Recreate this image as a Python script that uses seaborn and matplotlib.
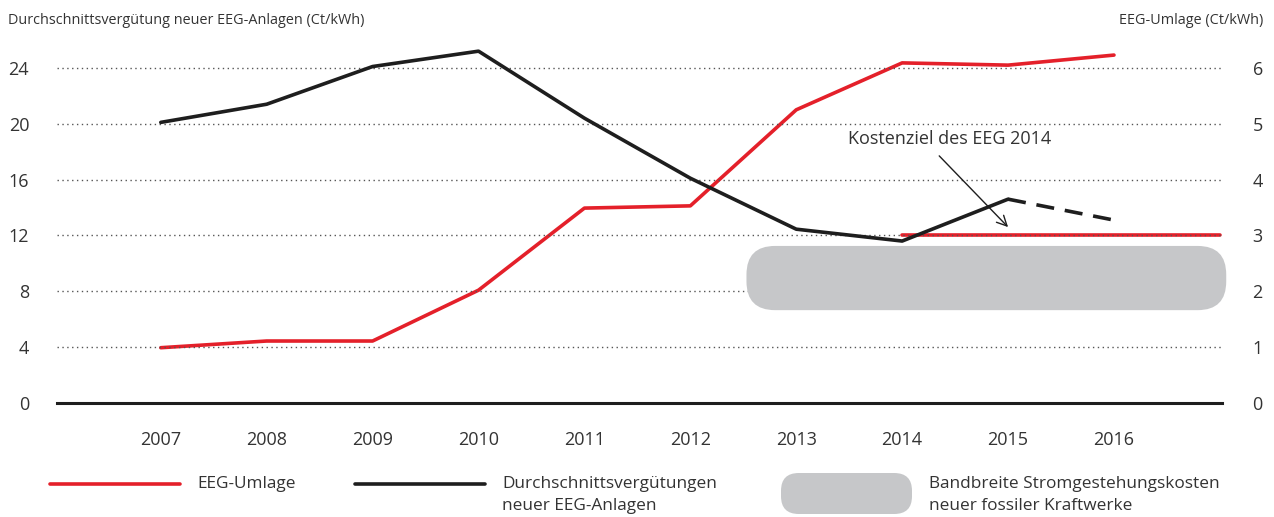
import numpy as np
import pandas as pd
import seaborn as sns
import matplotlib.pyplot as plt
from matplotlib.patches import FancyBboxPatch
from matplotlib.lines import Line2D

# Werte
jahre = [2007, 2008, 2009, 2010, 2011, 2012, 2013, 2014, 2015, 2016]
umlage = [0.99, 1.11, 1.11, 2.02, 3.49, 3.53, 5.25, 6.09, 6.05, 6.23]          # Ct/kWh, rechte Achse
verg_jahre = [2007, 2008, 2009, 2010, 2011, 2012, 2013, 2014, 2015]
verguetung = [20.1, 21.4, 24.1, 25.2, 20.4, 16.1, 12.45, 11.6, 14.6]            # Ct/kWh, linke Achse
prognose_jahre = [2015, 2016]
prognose = [14.6, 13.1]
kostenziel_jahre = [2014, 2017]
kostenziel = [3.0, 3.0]
band_von, band_bis = 6.65, 11.25       # Bandbreite fossile Kraftwerke (linke Achse)
band_start, band_ende = 2012.53, 2017.06

links_ticks = [0, 4, 8, 12, 16, 20, 24]
rechts_ticks = [0, 1, 2, 3, 4, 5, 6]

rot = "#e4202a"
schwarz = "#1e1e1e"
grau = "#c6c7c9"
textfarbe = "#333333"

sns.set_style("white")
plt.rcParams["font.family"] = ["Open Sans", "DejaVu Sans"]

fig = plt.figure(figsize=(12.74, 5.17), dpi=100)
ax = fig.add_axes([57 / 1274, 1 - 403 / 517, (1222 - 57) / 1274, (403 - 40) / 517])
ax2 = ax.twinx()

ax.set_xlim(2006.02, 2017.02)
ax.set_ylim(0, 26)
ax2.set_ylim(0, 6.5)

# Gitterlinien
for t in links_ticks[1:]:
    ax.axhline(t, color="#555555", lw=1.0, ls=(0, (1, 2.5)), zorder=0)

# Bandbreite
band = FancyBboxPatch((band_start, band_von), band_ende - band_start, band_bis - band_von,
                      boxstyle="round,pad=0,rounding_size=0.27", mutation_aspect=7.6,
                      fc=grau, ec="none", zorder=1, clip_on=False)
ax.add_patch(band)

df_v = pd.DataFrame({"jahr": verg_jahre, "wert": verguetung})
df_p = pd.DataFrame({"jahr": prognose_jahre, "wert": prognose})
df_u = pd.DataFrame({"jahr": jahre, "wert": umlage})
df_k = pd.DataFrame({"jahr": kostenziel_jahre, "wert": kostenziel})

sns.lineplot(data=df_v, x="jahr", y="wert", ax=ax, color=schwarz, lw=2.6, zorder=3)
sns.lineplot(data=df_p, x="jahr", y="wert", ax=ax, color=schwarz, lw=2.6, ls=(0, (5, 3)), zorder=3)
sns.lineplot(data=df_u, x="jahr", y="wert", ax=ax2, color=rot, lw=2.6, zorder=3)
sns.lineplot(data=df_k, x="jahr", y="wert", ax=ax2, color=rot, lw=2.6, zorder=3)
ax.set_zorder(ax2.get_zorder() + 1)
ax.patch.set_visible(False)

ax.set_xlabel("")
ax.set_ylabel("")
ax2.set_ylabel("")

ax.set_xticks(jahre)
ax.set_xticklabels([str(j) for j in jahre])
ax.set_yticks(links_ticks)
ax2.set_yticks(rechts_ticks)
ax2.set_xlim(2006.02, 2017.02)

for s in ["top", "right", "left"]:
    ax.spines[s].set_visible(False)
for s in ["top", "right", "left", "bottom"]:
    ax2.spines[s].set_visible(False)
ax.spines["bottom"].set_color(schwarz)
ax.spines["bottom"].set_linewidth(2.2)

ax.tick_params(axis="x", direction="out", length=11, width=1, color=schwarz,
               labelsize=13, labelcolor=textfarbe, pad=9)
ax.tick_params(axis="y", length=0, labelsize=13, labelcolor=textfarbe, pad=20)
ax2.tick_params(axis="y", length=0, labelsize=13, labelcolor=textfarbe, pad=22)

fig.text(8 / 1274, 1 - 20 / 517, "Durchschnittsvergütung neuer EEG-Anlagen (Ct/kWh)",
         fontsize=10.4, color=textfarbe, va="center", ha="left")
fig.text(1263 / 1274, 1 - 20 / 517, "EEG-Umlage (Ct/kWh)",
         fontsize=10.4, color=textfarbe, va="center", ha="right")

ax.text(2014.45, 18.9, "Kostenziel des EEG 2014", fontsize=13, color=textfarbe,
        ha="center", va="center")
ax.annotate("", xy=(2015.0, 12.6), xytext=(2014.35, 17.7),
            arrowprops=dict(arrowstyle="->", color=schwarz, lw=1.0,
                            shrinkA=0, shrinkB=0, mutation_scale=18))

# Legende
fy = 1 - 484 / 517
fig.add_artist(Line2D([50 / 1274, 180 / 1274], [fy, fy], color=rot, lw=2.6))
fig.text(197 / 1274, fy, "EEG-Umlage", fontsize=12.4, color=textfarbe, va="center")
fig.add_artist(Line2D([355 / 1274, 485 / 1274], [fy, fy], color=schwarz, lw=2.6))
fig.text(502 / 1274, 1 - 495 / 517, "Durchschnittsvergütungen\nneuer EEG-Anlagen",
         fontsize=12.4, color=textfarbe, va="center", linespacing=1.45)
leg_band = FancyBboxPatch((781 / 1274, 1 - 514 / 517), 131 / 1274, 41 / 517,
                          boxstyle="round,pad=0,rounding_size=0.014", mutation_aspect=2.46,
                          fc=grau, ec="none", transform=fig.transFigure)
fig.add_artist(leg_band)
fig.text(929 / 1274, 1 - 495 / 517, "Bandbreite Stromgestehungskosten\nneuer fossiler Kraftwerke",
         fontsize=12.4, color=textfarbe, va="center", linespacing=1.45)

fig.savefig("out.png", dpi=100)
